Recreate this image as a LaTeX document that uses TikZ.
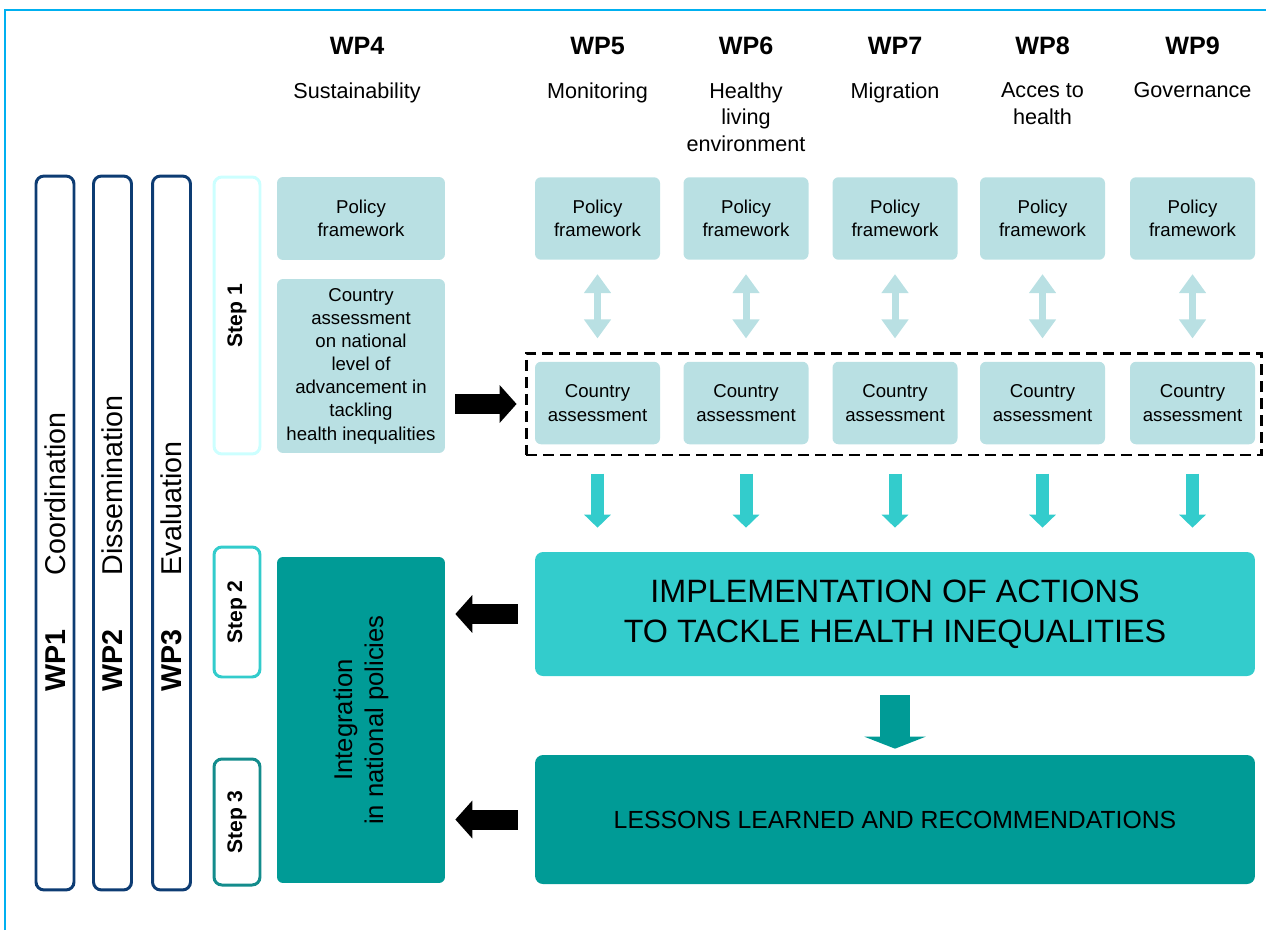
\documentclass[tikz,border=0pt]{standalone}
\usepackage{fontspec}
\setmainfont{Liberation Sans}
\usetikzlibrary{arrows.meta}
\definecolor{frameblue}{HTML}{00B0F0}
\definecolor{wpblue}{HTML}{0D3C73}
\definecolor{paleteal}{HTML}{B9E0E3}
\definecolor{midteal}{HTML}{33CCCC}
\definecolor{darkteal}{HTML}{009B96}
\definecolor{stepone}{HTML}{CCFFFF}
\definecolor{stepthree}{HTML}{138C8C}
\tikzset{wpbox/.style={draw=wpblue, line width=1.7pt, rounded corners=4.5pt, minimum width=0.76cm, minimum height=14.28cm},
wptext/.style={rotate=90, anchor=west, inner sep=0pt, font=\fontsize{16.3}{19}\selectfont},
stepbox/.style={draw=#1, line width=1.7pt, rounded corners=4.5pt, rotate=90, minimum height=0.92cm, inner sep=0pt, font=\bfseries\fontsize{12}{14}\selectfont},
%top labels
wphead/.style={anchor=base, inner sep=0pt, font=\bfseries\fontsize{14.3}{17}\selectfont},
topic/.style={anchor=north, align=center, inner sep=0pt, font=\fontsize{12.3}{15.3}\selectfont},
palebox/.style={fill=paleteal, rounded corners=3.4pt, align=center, inner sep=0pt, font=\fontsize{10.6}{13.2}\selectfont},
colbox/.style={minimum width=2.5cm, minimum height=1.65cm},
%block arrows
blkarrow/.style={black, line width=0.4cm, -{Triangle[width=0.74cm, length=0.34cm]}},
duoarrow/.style={paleteal, line width=0.14cm, {Triangle[width=0.52cm, length=0.38cm]}-{Triangle[width=0.52cm, length=0.38cm]}},
cyanarrow/.style={midteal, line width=0.26cm, -{Triangle[width=0.52cm, length=0.26cm]}},
tealarrow/.style={darkteal, line width=0.6cm, -{Triangle[width=1.22cm, length=0.24cm]}}}

\begin{document}
\begin{tikzpicture}[x=0.02cm, y=-0.02cm]
\useasboundingbox (0,0) rectangle (1266,930);
\draw[frameblue, line width=1.2pt] (5,930) -- (5,10) -- (1266,10);

% WP1 - WP3
\node[wpbox] (wp1) at (55,533) {};
\node[wpbox] (wp2) at (112.5,533) {};
\node[wpbox] (wp3) at (171.5,533) {};
\node[wptext] (wp1t) at (55,692) {\textbf{WP1}\hspace{31pt}Coordination};
\node[wptext] (wp2t) at (112.5,692) {\textbf{WP2}\hspace{31pt}Dissemination};
\node[wptext] (wp3t) at (171.5,692) {\textbf{WP3}\hspace{31pt}Evaluation};

% steps
\node[stepbox=stepone, minimum width=5.54cm] (s1) at (237,315.5) {Step 1};
\node[stepbox=midteal, minimum width=2.6cm] (s2) at (237,612) {Step 2};
\node[stepbox=stepthree, minimum width=2.52cm] (s3) at (237,822) {Step 3};

% WP4
\node[wphead] (h4) at (357,54) {WP4};
\node[topic] (t4) at (357,82) {Sustainability};
\node[palebox, minimum width=3.36cm, minimum height=1.66cm] (pf4) at (361,218.5) {Policy\\framework};
\node[palebox, minimum width=3.36cm, minimum height=3.48cm] (ca4) at (361,366) {Country\\assessment\\on national\\level of\\advancement in\\tackling\\health inequalities};
\node[fill=darkteal, rounded corners=3.4pt, minimum width=3.36cm, minimum height=6.52cm] (integ) at (361,720) {};
\node[rotate=90, align=center, inner sep=0pt, font=\fontsize{14.6}{17.6}\selectfont] (integt) at (integ) {Integration\\in national policies};

% main boxes
\node[draw, line width=1.7pt, dash pattern=on 0.22cm off 0.12cm, minimum width=14.72cm, minimum height=2.04cm] (dash) at (894,404) {};
\node[fill=midteal, rounded corners=4.5pt, minimum width=14.4cm, minimum height=2.48cm, align=center, font=\fontsize{18.4}{22.7}\selectfont] (impl) at (895,614) {IMPLEMENTATION OF ACTIONS\\TO TACKLE HEALTH INEQUALITIES};
\node[fill=darkteal, rounded corners=4.5pt, minimum width=14.4cm, minimum height=2.58cm, font=\fontsize{14.1}{17}\selectfont] (less) at (895,819.5) {LESSONS LEARNED AND RECOMMENDATIONS};

% WP5 - WP9
\foreach \n/\x/\topic in {5/597.5/Monitoring, 6/746/{Healthy\\living\\environment}, 7/895/Migration, 8/1042.5/{Acces to\\health}, 9/1192.5/Governance}{
  \node[wphead] (h\n) at (\x,54) {WP\n};
  \node[topic] (t\n) at (\x,82) {\topic};
  \node[palebox, colbox] (pf\n) at (\x,218.5) {Policy\\framework};
  \node[palebox, colbox] (ca\n) at (\x,403) {Country\\assessment};
  \draw[duoarrow, shorten <=0.28cm, shorten >=0.46cm] (pf\n) -- (ca\n);
  \draw[cyanarrow, shorten <=0.58cm, shorten >=0.48cm] (ca\n.south) -- (ca\n.south |- impl.north);
}

\draw[blkarrow, shorten <=0.2cm, shorten >=0.16cm] (ca4.east |- dash.west) -- (dash.west);
\draw[blkarrow, shorten <=0.34cm, shorten >=0.2cm] (impl.west) -- (integ.east |- impl.west);
\draw[blkarrow, shorten <=0.34cm, shorten >=0.2cm] (less.west) -- (integ.east |- less.west);
\draw[tealarrow, shorten <=0.38cm, shorten >=0.12cm] (impl.south) -- (less.north);
\end{tikzpicture}
\end{document}
